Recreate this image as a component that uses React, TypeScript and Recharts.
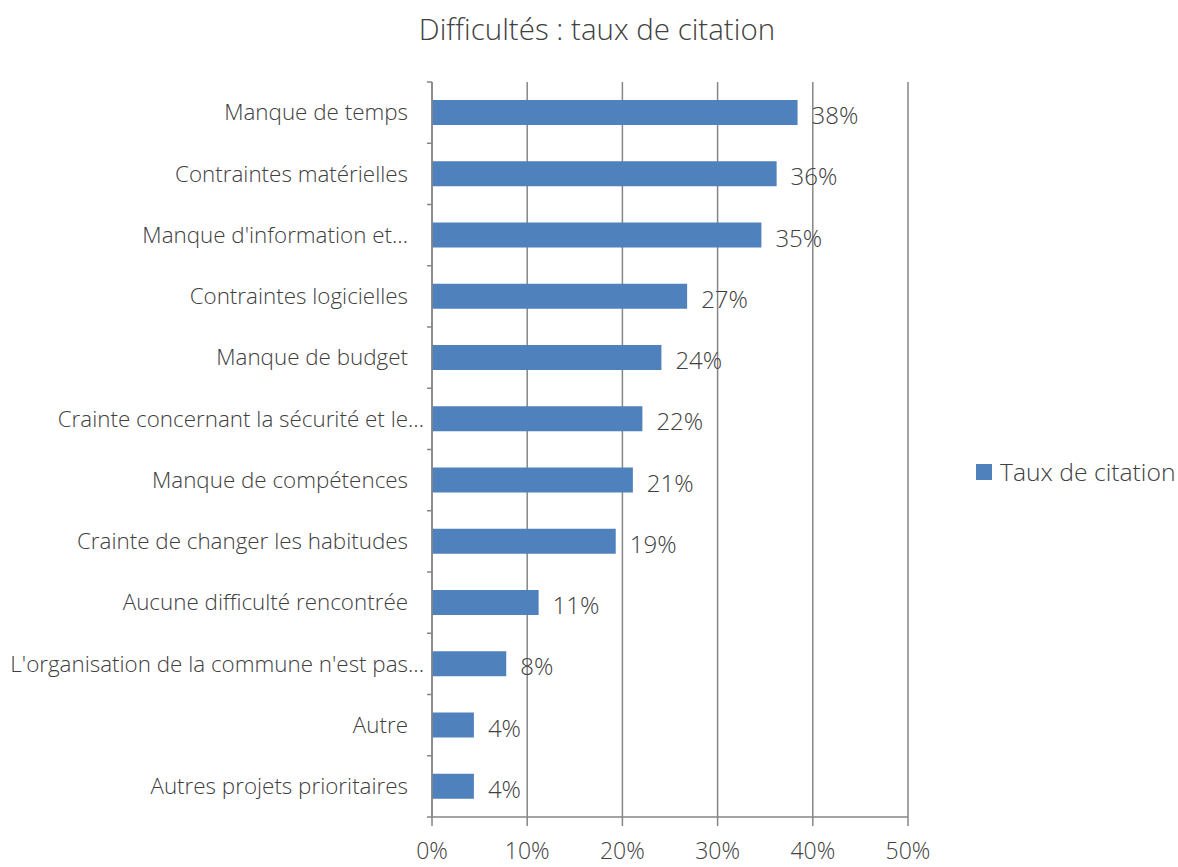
import { BarChart, Bar, XAxis, YAxis, CartesianGrid, LabelList } from 'recharts';

const categories = [
  'Manque de temps',
  'Contraintes matérielles',
  "Manque d'information et...",
  'Contraintes logicielles',
  'Manque de budget',
  'Crainte concernant la sécurité et le...',
  'Manque de compétences',
  'Crainte de changer les habitudes',
  'Aucune difficulté rencontrée',
  "L'organisation de la commune n'est pas...",
  'Autre',
  'Autres projets prioritaires',
];

const tauxValues = [38.4, 36.2, 34.6, 26.8, 24.1, 22.1, 21.1, 19.3, 11.2, 7.8, 4.4, 4.4];

const xTicks = [0, 10, 20, 30, 40, 50];

const data = categories.map((name, i) => ({ name, taux: tauxValues[i] }));

const FONT = '"Open Sans", "Noto Sans", sans-serif';
const TEXT = '#404040';
const AXIS = '#868686';
const BLUE = '#4F81BD';
const BAND = 735 / categories.length;

// Excel-style category axis: tick marks sit between categories
const CategoryTick = ({ x, y, payload, index }: any) => {
  const long = payload.value.length > 36;
  return (
    <g>
      <line x1={x - 5} x2={x} y1={y - BAND / 2} y2={y - BAND / 2} stroke={AXIS} strokeWidth={1.5} />
      {index === categories.length - 1 && (
        <line x1={x - 5} x2={x} y1={y + BAND / 2} y2={y + BAND / 2} stroke={AXIS} strokeWidth={1.5} />
      )}
      <text
        x={long ? x - 8 : x - 24}
        y={y}
        dy="0.35em"
        textAnchor="end"
        fill={TEXT}
        fontSize={22.4}
        fontFamily={FONT}
        fontWeight={300}
      >
        {payload.value}
      </text>
    </g>
  );
};

export default function App() {
  return (
    <div style={{ position: 'absolute', left: 0, top: 0, width: 1178, height: 867, background: '#fff' }}>
      <div
        style={{
          position: 'absolute',
          top: 8,
          left: 8,
          width: 1178,
          textAlign: 'center',
          fontFamily: FONT,
          fontWeight: 300,
          fontSize: 29.5,
          color: TEXT,
        }}
      >
        Difficultés : taux de citation
      </div>
      <div
        style={{
          position: 'absolute',
          left: 976,
          top: 455,
          display: 'flex',
          alignItems: 'center',
          fontFamily: FONT,
          fontWeight: 300,
          fontSize: 24.7,
          color: TEXT,
          whiteSpace: 'nowrap',
        }}
      >
        <span style={{ width: 16, height: 16, background: BLUE, display: 'inline-block', marginRight: 8 }} />
        Taux de citation
      </div>
      <BarChart
        width={1178}
        height={867}
        data={data}
        layout="vertical"
        margin={{ top: 82, right: 270, bottom: 0, left: 0 }}
        barCategoryGap={0}
      >
        <CartesianGrid horizontal={false} stroke={AXIS} strokeWidth={1.5} />
        <XAxis
          type="number"
          domain={[0, 50]}
          ticks={xTicks}
          height={50}
          tickSize={9}
          tickMargin={17}
          axisLine={{ stroke: AXIS, strokeWidth: 1.5 }}
          tickLine={{ stroke: AXIS, strokeWidth: 1.5 }}
          tickFormatter={(v: number) => `${v}%`}
          tick={{ fill: TEXT, fontSize: 23, fontFamily: FONT, fontWeight: 300 }}
        />
        <YAxis
          type="category"
          dataKey="name"
          width={432}
          interval={0}
          tickSize={0}
          tickMargin={0}
          axisLine={{ stroke: AXIS, strokeWidth: 1.5 }}
          tickLine={false}
          tick={<CategoryTick />}
        />
        <Bar dataKey="taux" name="Taux de citation" fill={BLUE} barSize={25} isAnimationActive={false}>
          <LabelList
            dataKey="taux"
            position="right"
            offset={14}
            formatter={(v: number) => `${Math.round(v)}%`}
            fill={TEXT}
            fontSize={24}
            fontFamily={FONT}
            fontWeight={300}
            dy={3}
          />
        </Bar>
      </BarChart>
    </div>
  );
}
